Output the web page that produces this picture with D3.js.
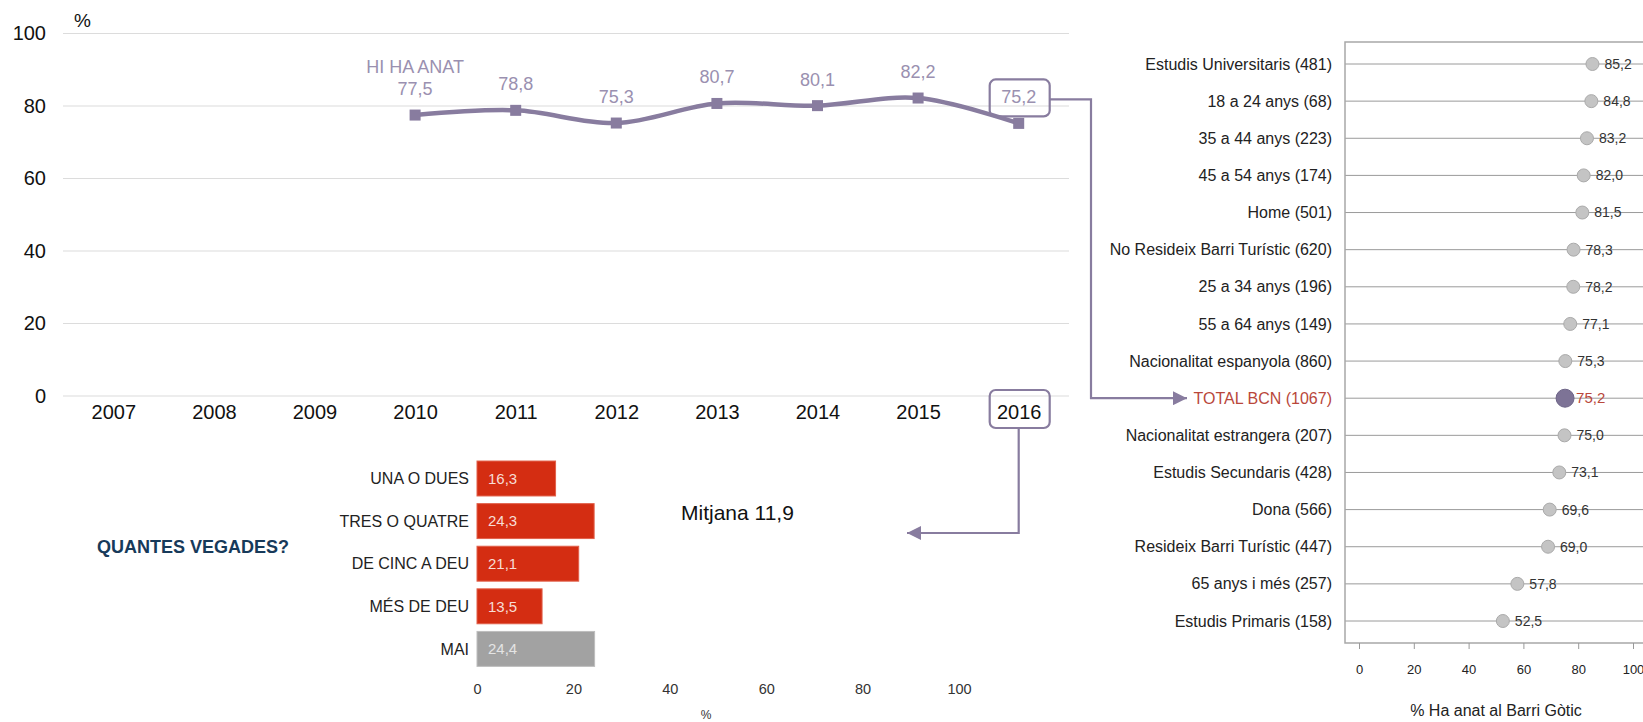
<!DOCTYPE html>
<html>
<head>
<meta charset="utf-8">
<script src="https://cdn.jsdelivr.net/npm/d3@7"></script>
<style>
  html, body { margin: 0; padding: 0; background: #fff; }
  svg { display: block; font-family: "Liberation Sans", Arial, Helvetica, sans-serif; }
</style>
</head>
<body>
<svg id="chart" width="1643" height="722"></svg>
<script>
// ---------- DATA ----------
const years = ["2007", "2008", "2009", "2010", "2011", "2012", "2013", "2014", "2015", "2016"];
const lineYears = ["2010", "2011", "2012", "2013", "2014", "2015", "2016"];
const lineValues = [77.5, 78.8, 75.3, 80.7, 80.1, 82.2, 75.2];
const yTicks = [0, 20, 40, 60, 80, 100];
const seriesName = "HI HA ANAT";

const freqCategories = ["UNA O DUES", "TRES O QUATRE", "DE CINC A DEU", "MÉS DE DEU", "MAI"];
const freqValues = [16.3, 24.3, 21.1, 13.5, 24.4];
const freqTicks = [0, 20, 40, 60, 80, 100];
const freqTitle = "QUANTES VEGADES?";
const meanLabel = "Mitjana 11,9";

const groupLabels = [
  "Estudis Universitaris (481)", "18 a 24 anys (68)", "35 a 44 anys (223)", "45 a 54 anys (174)",
  "Home (501)", "No Resideix Barri Turístic (620)", "25 a 34 anys (196)", "55 a 64 anys (149)",
  "Nacionalitat espanyola (860)", "TOTAL BCN (1067)", "Nacionalitat estrangera (207)",
  "Estudis Secundaris (428)", "Dona (566)", "Resideix Barri Turístic (447)",
  "65 anys i més (257)", "Estudis Primaris (158)"
];
const groupValues = [85.2, 84.8, 83.2, 82.0, 81.5, 78.3, 78.2, 77.1, 75.3, 75.2, 75.0, 73.1, 69.6, 69.0, 57.8, 52.5];
const totalLabel = "TOTAL BCN (1067)";
const dotTicks = [0, 20, 40, 60, 80, 100];
const dotAxisTitle = "% Ha anat al Barri Gòtic";

// ---------- STYLE ----------
const purple = "#887c9f";
const purpleText = "#9a90b0";
const fmt = v => d3.format(".1f")(v).replace(".", ",");

const svg = d3.select("#chart");

// arrow marker
const defs = svg.append("defs");
defs.append("marker").attr("id", "arr")
  .attr("viewBox", "0 0 10 10").attr("refX", 10).attr("refY", 5)
  .attr("markerUnits", "userSpaceOnUse").attr("markerWidth", 15).attr("markerHeight", 14)
  .attr("orient", "auto")
  .append("path").attr("d", "M0,0 L10,5 L0,10 Z").attr("fill", purple);

// ---------- LINE CHART ----------
const x = d3.scalePoint().domain(years).range([63, 1069]).padding(0.5);
const y = d3.scaleLinear().domain([0, 100]).range([396, 33.5]);

const gLine = svg.append("g");
gLine.append("g").selectAll("line").data(yTicks).join("line")
  .attr("x1", 63).attr("x2", 1069)
  .attr("y1", d => y(d)).attr("y2", d => y(d))
  .attr("stroke", "#dcdcdc").attr("stroke-width", 1.2);

const yAxis = d3.axisLeft(y).tickValues(yTicks).tickSize(0).tickPadding(0);
const gy = gLine.append("g").attr("transform", "translate(46,0)").call(yAxis);
gy.select(".domain").remove();
gy.selectAll("text").attr("font-size", 20).attr("fill", "#111")
  .attr("font-family", "Liberation Sans, Arial, sans-serif");

gLine.append("text").attr("x", 74).attr("y", 27).attr("font-size", 19).attr("fill", "#111").text("%");

const xAxis = d3.axisBottom(x).tickSize(0).tickPadding(0);
const gx = gLine.append("g").attr("transform", "translate(0,400)").call(xAxis);
gx.select(".domain").remove();
gx.selectAll("text").attr("font-size", 20).attr("fill", "#111").attr("dy", "0.95em")
  .attr("font-family", "Liberation Sans, Arial, sans-serif");

const pts = lineYears.map((yr, i) => ({ yr, v: lineValues[i] }));
const lineGen = d3.line().x(d => x(d.yr)).y(d => y(d.v)).curve(d3.curveCatmullRom.alpha(0.5));
gLine.append("path").datum(pts).attr("d", lineGen)
  .attr("fill", "none").attr("stroke", purple).attr("stroke-width", 4.5);
gLine.selectAll("rect.mk").data(pts).join("rect").attr("class", "mk")
  .attr("x", d => x(d.yr) - 5.5).attr("y", d => y(d.v) - 5.5)
  .attr("width", 11).attr("height", 11).attr("fill", purple);
gLine.selectAll("text.vl").data(pts).join("text").attr("class", "vl")
  .attr("x", d => x(d.yr)).attr("y", d => y(d.v) - 20)
  .attr("text-anchor", "middle").attr("font-size", 18).attr("fill", purpleText)
  .text(d => fmt(d.v));
gLine.append("text").attr("x", x(lineYears[0])).attr("y", y(lineValues[0]) - 42)
  .attr("text-anchor", "middle").attr("font-size", 18).attr("fill", purpleText).text(seriesName);

// highlight boxes for last point
const lastYr = lineYears[lineYears.length - 1];
const lastV = lineValues[lineValues.length - 1];
const lx = x(lastYr), ly = y(lastV);
gLine.append("rect").attr("x", lx - 29).attr("y", ly - 44).attr("width", 60).attr("height", 37)
  .attr("rx", 6).attr("fill", "none").attr("stroke", purple).attr("stroke-width", 2.2);
gLine.append("rect").attr("x", lx - 29).attr("y", 390).attr("width", 60).attr("height", 38)
  .attr("rx", 6).attr("fill", "none").attr("stroke", purple).attr("stroke-width", 2.2);

// ---------- DOT CHART ----------
const dx = d3.scaleLinear().domain([0, 100]).range([1359, 1633]);
const dy = d3.scalePoint().domain(groupLabels).range([64, 621]);
const gDot = svg.append("g");
const frameL = 1345, frameT = 42, frameB = 643;

gDot.selectAll("line.row").data(groupLabels).join("line").attr("class", "row")
  .attr("x1", frameL).attr("x2", 1643)
  .attr("y1", d => dy(d)).attr("y2", d => dy(d))
  .attr("stroke", "#9a9a9a").attr("stroke-width", 1);
gDot.append("path")
  .attr("d", `M1643,${frameT}H${frameL}V${frameB}H1643`)
  .attr("fill", "none").attr("stroke", "#a8a8a8").attr("stroke-width", 1.5);

const dAxis = d3.axisBottom(dx).tickValues(dotTicks).tickSize(6).tickPadding(16).tickFormat(d3.format("d"));
const gdx = gDot.append("g").attr("transform", `translate(0,${frameB})`).call(dAxis);
gdx.select(".domain").remove();
gdx.selectAll("line").attr("stroke", "#999");
gdx.selectAll("text").attr("font-size", 13).attr("fill", "#222")
  .attr("font-family", "Liberation Sans, Arial, sans-serif");
gDot.append("text").attr("x", 1496).attr("y", 716).attr("text-anchor", "middle")
  .attr("font-size", 16).attr("fill", "#222").text(dotAxisTitle);

const dots = groupLabels.map((l, i) => ({ l, v: groupValues[i], total: l === totalLabel }));
gDot.selectAll("text.cat").data(dots).join("text").attr("class", "cat")
  .attr("x", 1332).attr("y", d => dy(d.l)).attr("dy", "0.35em")
  .attr("text-anchor", "end").attr("font-size", 16)
  .attr("fill", d => d.total ? "#b9473b" : "#222").text(d => d.l);
gDot.selectAll("circle").data(dots).join("circle")
  .attr("cx", d => dx(d.v)).attr("cy", d => dy(d.l))
  .attr("r", d => d.total ? 9 : 6.5)
  .attr("fill", d => d.total ? "#7d7396" : "#c4c4c4")
  .attr("stroke", d => d.total ? "#6e6588" : "#aaa").attr("stroke-width", 1);
gDot.selectAll("text.dv").data(dots).join("text").attr("class", "dv")
  .attr("x", d => dx(d.v) + (d.total ? 11 : 12)).attr("y", d => dy(d.l)).attr("dy", "0.35em")
  .attr("font-size", d => d.total ? 15 : 14)
  .attr("fill", d => d.total ? "#b9473b" : "#333").text(d => fmt(d.v));

// connector from last point box to TOTAL BCN
gLine.append("path")
  .attr("d", `M${lx + 31},${ly - 24}H1091V${dy(totalLabel)}H1187`)
  .attr("fill", "none").attr("stroke", purple).attr("stroke-width", 2.2)
  .attr("marker-end", "url(#arr)");

// ---------- BAR CHART ----------
const bx = d3.scaleLinear().domain([0, 100]).range([477, 959]);
const by = d3.scaleBand().domain(freqCategories).range([457.2, 670.2]).paddingInner(0.18).paddingOuter(0.09);
const gBar = svg.append("g");
const bars = freqCategories.map((c, i) => ({ c, v: freqValues[i], never: c === "MAI" }));
gBar.selectAll("rect").data(bars).join("rect")
  .attr("x", bx(0)).attr("y", d => by(d.c))
  .attr("width", d => bx(d.v) - bx(0)).attr("height", by.bandwidth())
  .attr("fill", d => d.never ? "#a2a2a2" : "#d42d12")
  .attr("stroke", d => d.never ? "#bdbdbd" : "#e2604a").attr("stroke-width", 1);
gBar.selectAll("text.bv").data(bars).join("text").attr("class", "bv")
  .attr("x", bx(0) + 11).attr("y", d => by(d.c) + by.bandwidth() / 2).attr("dy", "0.35em")
  .attr("font-size", 15).attr("fill", d => d.never ? "#e4e4e4" : "#f7ddd6").text(d => fmt(d.v));
gBar.selectAll("text.bc").data(bars).join("text").attr("class", "bc")
  .attr("x", 469).attr("y", d => by(d.c) + by.bandwidth() / 2).attr("dy", "0.35em")
  .attr("text-anchor", "end").attr("font-size", 16).attr("fill", "#222").text(d => d.c);
const bAxis = d3.axisBottom(bx).tickValues(freqTicks).tickSize(0).tickPadding(0).tickFormat(d3.format("d"));
const gbx = gBar.append("g").attr("transform", "translate(0,684)").call(bAxis);
gbx.select(".domain").remove();
gbx.selectAll("text").attr("font-size", 14.5).attr("fill", "#333")
  .attr("font-family", "Liberation Sans, Arial, sans-serif");
gBar.append("text").attr("x", 706).attr("y", 719).attr("text-anchor", "middle")
  .attr("font-size", 12).attr("fill", "#333").text("%");
gBar.append("text").attr("x", 97).attr("y", 553).attr("font-size", 18).attr("font-weight", "bold")
  .attr("fill", "#173a5a").text(freqTitle);
gBar.append("text").attr("x", 681).attr("y", 520).attr("font-size", 21).attr("fill", "#111").text(meanLabel);

// connector from 2016 box to the frequency chart
gLine.append("path")
  .attr("d", `M${lx},428V533H907`)
  .attr("fill", "none").attr("stroke", purple).attr("stroke-width", 2.2)
  .attr("marker-end", "url(#arr)");
</script>
</body>
</html>
